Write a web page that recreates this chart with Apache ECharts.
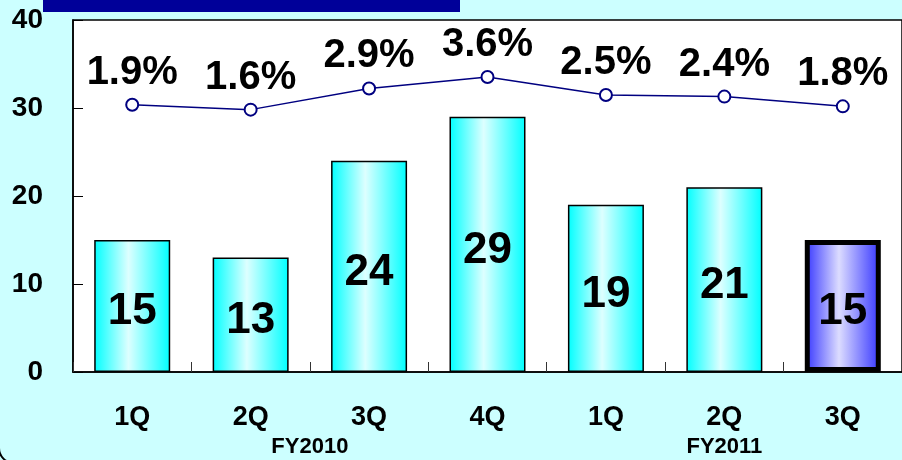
<!DOCTYPE html>
<html>
<head>
<meta charset="utf-8">
<script src="https://cdn.jsdelivr.net/npm/echarts@6/dist/echarts.min.js"></script>
<style>
  html, body { margin: 0; padding: 0; background: #CCFFFF; }
  #chart { width: 902px; height: 460px; }
</style>
</head>
<body>
<div id="chart"></div>
<script>
// Quarterly figures
const quarters = ['1Q', '2Q', '3Q', '4Q', '1Q', '2Q', '3Q'];
const amounts = [15, 13, 24, 29, 19, 21, 15];
const ratios = [1.9, 1.6, 2.9, 3.6, 2.5, 2.4, 1.8];
const fiscalYears = [
  { name: 'FY2010', first: 0, last: 3 },
  { name: 'FY2011', first: 4, last: 6 }
];
const yTicks = { min: 0, max: 40, interval: 10 };
const currentIndex = 6;

const font = '"Liberation Sans", Arial, sans-serif';

const cyanFill = {
  type: 'linear', x: 0, y: 0, x2: 1, y2: 0,
  colorStops: [
    { offset: 0, color: '#00FFFF' },
    { offset: 0.45, color: '#DDFFFF' },
    { offset: 1, color: '#00FFFF' }
  ]
};
const blueFill = {
  type: 'linear', x: 0, y: 0, x2: 1, y2: 0,
  colorStops: [
    { offset: 0, color: '#3333FF' },
    { offset: 0.45, color: '#DCDCFF' },
    { offset: 1, color: '#3333FF' }
  ]
};

const barData = amounts.map((v, i) => i === currentIndex
  ? { value: v, itemStyle: { color: blueFill, borderColor: '#000', borderWidth: 5 } }
  : { value: v });

const chart = echarts.init(document.getElementById('chart'), null, { renderer: 'canvas' });

const option = {
  backgroundColor: '#CCFFFF',
  animation: false,
  grid: {
    left: 73, top: 20, bottom: 88, right: -6,
    show: true, backgroundColor: '#FFFFFF', borderColor: '#000', borderWidth: 1.5
  },
  xAxis: {
    type: 'category',
    data: quarters,
    axisLine: { lineStyle: { color: '#000', width: 1.5 } },
    axisTick: { show: true, inside: true, length: 10, alignWithLabel: false, lineStyle: { color: '#333' } },
    axisLabel: { color: '#000', fontFamily: font, fontWeight: 'bold', fontSize: 27, margin: 32 }
  },
  yAxis: [{
    type: 'value',
    min: yTicks.min, max: yTicks.max, interval: yTicks.interval,
    axisLine: { show: true, lineStyle: { color: '#000', width: 1.5 } },
    axisTick: { show: true, inside: true, length: 10, lineStyle: { color: '#000' } },
    splitLine: { show: false },
    axisLabel: { color: '#000', fontFamily: font, fontWeight: 'bold', fontSize: 28, margin: 30,
      verticalAlign: 'middle' }
  }, {
    // hidden scale for the ratio line
    type: 'value', min: -14.5, max: 7.1, show: false,
    splitLine: { show: false }
  }],
  series: [{
    type: 'bar',
    data: barData,
    barWidth: 76,
    itemStyle: { color: cyanFill, borderColor: '#000', borderWidth: 1.5 },
    label: {
      show: true, position: 'inside', offset: [0, 6],
      color: '#000', fontFamily: font, fontWeight: 'bold', fontSize: 44,
      formatter: p => String(p.value)
    }
  }, {
    type: 'line',
    yAxisIndex: 1,
    data: ratios,
    symbol: 'circle', symbolSize: 12,
    lineStyle: { color: '#000080', width: 1.5 },
    itemStyle: { color: '#FFFFFF', borderColor: '#000080', borderWidth: 2 },
    label: {
      show: true, position: 'top', distance: 5,
      color: '#000', fontFamily: font, fontWeight: 'bold', fontSize: 40,
      formatter: p => p.value.toFixed(1) + '%'
    }
  }]
};
chart.setOption(option);

// Fiscal-year captions under the quarter labels, and the frame decorations
const groupText = fiscalYears.map(g => {
  const a = chart.convertToPixel({ xAxisIndex: 0 }, g.first);
  const b = chart.convertToPixel({ xAxisIndex: 0 }, g.last);
  return {
    type: 'text', x: (a + b) / 2, y: 447, z: 10,
    style: { text: g.name, fill: '#000', font: 'bold 22px ' + font, align: 'center', verticalAlign: 'middle' }
  };
});

chart.setOption({
  graphic: [
    { type: 'rect', shape: { x: 43, y: -30, width: 417, height: 42 }, style: { fill: '#000099' }, z: 10 },
    { type: 'rect', shape: { x: -1, y: -60, width: 1000, height: 523, r: 15 },
      style: { fill: 'none', stroke: '#000', lineWidth: 2 }, z: 10, silent: true },
    ...groupText
  ]
});
</script>
</body>
</html>
